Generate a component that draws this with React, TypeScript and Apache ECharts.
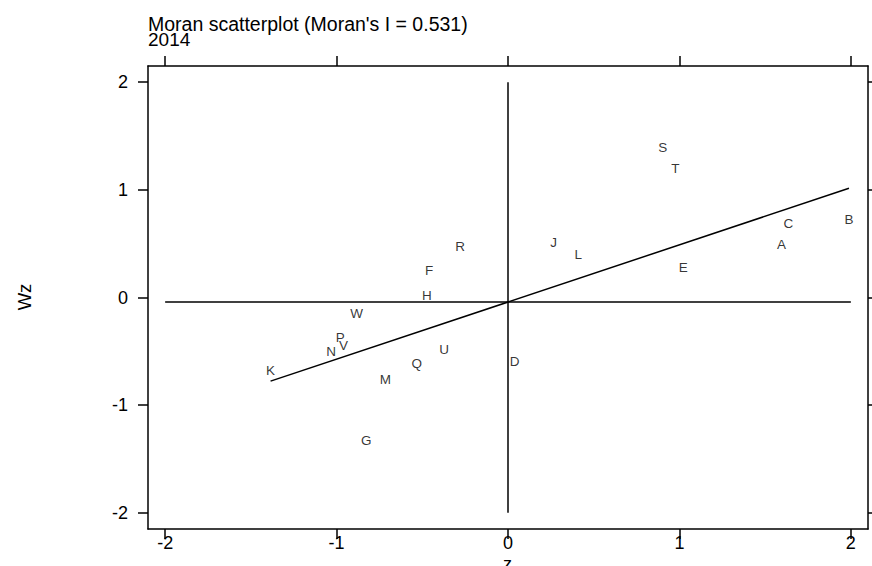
import React, { useEffect, useRef } from "react";
import * as echarts from "echarts";

const pointNames = ["A", "B", "C", "D", "E", "F", "G", "H", "J", "K", "L", "M", "N", "P", "Q", "R", "S", "T", "U", "V", "W"];
const zValues = [1.595, 1.989, 1.636, 0.038, 1.023, -0.46, -0.827, -0.473, 0.266, -1.385, 0.41, -0.716, -1.032, -0.979, -0.533, -0.279, 0.903, 0.977, -0.372, -0.96, -0.883];
const wzValues = [0.491, 0.723, 0.686, -0.597, 0.274, 0.253, -1.329, 0.021, 0.51, -0.674, 0.398, -0.766, -0.498, -0.374, -0.612, 0.478, 1.396, 1.196, -0.479, -0.445, -0.149];

const regLineX = [-1.385, 1.989];
const regLineY = [-0.777, 1.014];
const meanLineX = [-2, 2];
const meanLineY = [-0.042, -0.042];
const zeroLineX = [0, 0];
const zeroLineY = [-2, 2];

const xTicks = [-2, -1, 0, 1, 2];
const yTicks = [-2, -1, 0, 1, 2];

const titleText = "Moran scatterplot (Moran's I = 0.531)";
const subtitleText = "2014";
const xName = "z";
const yName = "Wz";

const FONT = "'Liberation Sans', Arial, Helvetica, sans-serif";

export default function App() {
  const ref = useRef<HTMLDivElement>(null);
  useEffect(() => {
    if (!ref.current) return;
    const chart = echarts.init(ref.current, null, { renderer: "svg" });
    const axisCommon = {
      type: "value" as const,
      interval: 1,
      splitLine: { show: false },
      axisLine: { show: true, onZero: false, lineStyle: { color: "#000", width: 1.5 } },
      axisTick: { show: true, inside: false, length: 10, lineStyle: { color: "#000", width: 1.5 } },
    };
    const pair = (xs: number[], ys: number[]) => xs.map((x, i) => [x, ys[i]]);
    chart.setOption({
      animation: false,
      backgroundColor: "#fff",
      textStyle: { fontFamily: FONT },
      grid: { left: 148, top: 66, right: 4, bottom: 37, containLabel: false },
      graphic: [
        { type: "text", left: 148, top: 14, style: { text: titleText, font: `19.5px ${FONT}`, fill: "#000" } },
        { type: "text", left: 148, top: 30, style: { text: subtitleText, font: `19px ${FONT}`, fill: "#000" } },
        { type: "text", left: 503, top: 555, style: { text: xName, font: `18px ${FONT}`, fill: "#000" } },
        { type: "text", x: 24, y: 297, rotation: Math.PI / 2, style: { text: yName, font: `18.5px ${FONT}`, fill: "#000", align: "center", verticalAlign: "middle" } },
      ],
      xAxis: [
        {
          ...axisCommon,
          position: "bottom",
          min: -2.1,
          max: 2.1,
          axisLabel: {
            show: true,
            color: "#000",
            fontSize: 18,
            fontFamily: FONT,
            margin: 5,
            customValues: xTicks,
            formatter: (v: number) => String(v),
          },
          axisTick: { ...axisCommon.axisTick, customValues: xTicks },
        },
        {
          ...axisCommon,
          position: "top",
          min: -2.1,
          max: 2.1,
          axisLabel: { show: false },
          axisTick: { ...axisCommon.axisTick, customValues: xTicks },
        },
      ],
      yAxis: [
        {
          ...axisCommon,
          position: "left",
          min: -2.15,
          max: 2.15,
          axisLabel: {
            show: true,
            color: "#000",
            fontSize: 18,
            fontFamily: FONT,
            margin: 20,
            customValues: yTicks,
            formatter: (v: number) => String(v),
          },
          axisTick: { ...axisCommon.axisTick, customValues: yTicks },
        },
        {
          ...axisCommon,
          position: "right",
          min: -2.15,
          max: 2.15,
          axisLabel: { show: false },
          axisTick: { ...axisCommon.axisTick, customValues: yTicks },
        },
      ],
      series: [
        {
          type: "line",
          data: pair(meanLineX, meanLineY),
          symbol: "none",
          lineStyle: { color: "#000", width: 1.5 },
          silent: true,
        },
        {
          type: "line",
          data: pair(zeroLineX, zeroLineY),
          symbol: "none",
          lineStyle: { color: "#000", width: 1.5 },
          silent: true,
        },
        {
          type: "line",
          data: pair(regLineX, regLineY),
          symbol: "none",
          lineStyle: { color: "#000", width: 1.5 },
          silent: true,
        },
        {
          type: "scatter",
          symbol: "circle",
          symbolSize: 2,
          itemStyle: { color: "rgba(0,0,0,0)" },
          data: pointNames.map((n, i) => ({ name: n, value: [zValues[i], wzValues[i]] })),
          label: {
            show: true,
            position: "inside",
            formatter: (p: any) => p.name,
            color: "#000",
            textBorderWidth: 0,
            textBorderColor: "transparent",
            fontSize: 13.5,
            fontFamily: FONT,
          },
        },
      ],
    });
    return () => chart.dispose();
  }, []);
  return <div ref={ref} style={{ position: "fixed", left: 0, top: 0, width: 872, height: 566 }} />;
}
